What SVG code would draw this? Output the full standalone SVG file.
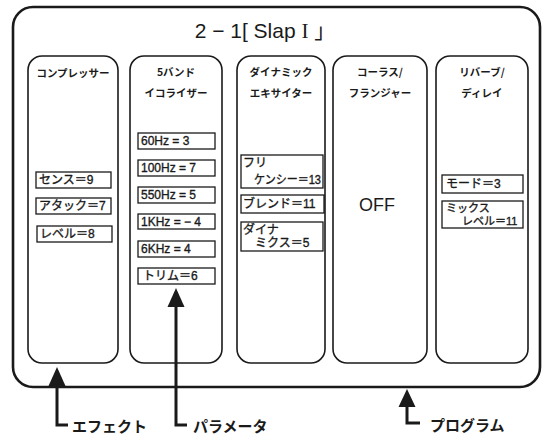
<svg xmlns="http://www.w3.org/2000/svg" width="547" height="436" viewBox="0 0 547 436">
<defs>
<style>
.frame{fill:none;stroke:#1a1a1a;stroke-width:2.6}
.col{fill:#fff;stroke:#1a1a1a;stroke-width:1.6}
.box{fill:#fff;stroke:#1a1a1a;stroke-width:1.3}
.hd{font-family:"Noto Sans CJK JP",sans-serif;font-size:10.5px;font-weight:700;fill:#1a1a1a;text-anchor:middle}
.bt{font-family:"Liberation Sans","Noto Sans CJK JP",sans-serif;font-size:12px;fill:#1a1a1a;stroke:#1a1a1a;stroke-width:0.35}
.sm{font-size:11px}
.title{font-family:"Liberation Sans","Noto Sans CJK JP",sans-serif;font-size:21px;fill:#1a1a1a;text-anchor:middle}
.off{font-family:"Liberation Sans",sans-serif;font-size:18px;fill:#1a1a1a;text-anchor:middle}
.lbl{font-family:"Noto Sans CJK JP",sans-serif;font-size:15px;font-weight:700;fill:#1a1a1a}
.shaft{fill:none;stroke:#1a1a1a;stroke-width:3}
.head{fill:#1a1a1a}
</style>
</defs>
<rect width="547" height="436" fill="#fff"/>
<g id="program">
<rect class="frame" x="13" y="7" width="527" height="380" rx="20" ry="20"/>
<text class="title" x="265" y="38">2 − 1[ Slap  <tspan font-family="Liberation Serif">I</tspan> 」</text>
</g>
<g id="compressor">
<rect class="col" x="28" y="56" width="90" height="307" rx="14" ry="14"/>
<text class="hd" x="73" y="77">コンプレッサー</text>
<rect class="box" x="36" y="172" width="75" height="16"/>
<text class="bt" x="39" y="184">センス＝9</text>
<rect class="box" x="36" y="198" width="75" height="16"/>
<text class="bt" x="39" y="210">アタック＝7</text>
<rect class="box" x="37" y="226" width="75" height="16"/>
<text class="bt" x="40" y="238">レベル＝8</text>
</g>
<g id="eq">
<rect class="col" x="130" y="56" width="92" height="307" rx="14" ry="14"/>
<text class="hd" x="176" y="76">5バンド</text>
<text class="hd" x="176" y="97">イコライザー</text>
<rect class="box" x="138" y="133" width="77" height="16"/>
<text class="bt" x="141" y="145">60Hz = 3</text>
<rect class="box" x="138" y="160" width="77" height="16"/>
<text class="bt" x="141" y="172">100Hz = 7</text>
<rect class="box" x="138" y="187" width="77" height="16"/>
<text class="bt" x="141" y="199">550Hz = 5</text>
<rect class="box" x="138" y="214" width="77" height="15"/>
<text class="bt" x="141" y="226">1KHz = − 4</text>
<rect class="box" x="138" y="241" width="77" height="16"/>
<text class="bt" x="141" y="253">6KHz = 4</text>
<rect class="box" x="138" y="268" width="77" height="16"/>
<text class="bt" x="143" y="280">トリム＝6</text>
</g>
<g id="exciter">
<rect class="col" x="237" y="56" width="88" height="307" rx="14" ry="14"/>
<text class="hd" x="281" y="76">ダイナミック</text>
<text class="hd" x="281" y="97">エキサイター</text>
<rect class="box" x="241" y="155" width="82" height="33"/>
<text class="bt" x="243" y="167">フリ</text>
<text class="bt" x="254" y="184" textLength="67" lengthAdjust="spacingAndGlyphs">ケンシー＝13</text>
<rect class="box" x="241" y="195" width="83" height="18"/>
<text class="bt" x="243" y="208">ブレンド＝11</text>
<rect class="box" x="241" y="222" width="82" height="29"/>
<text class="bt" x="243" y="234">ダイナ</text>
<text class="bt" x="255" y="247">ミクス＝5</text>
</g>
<g id="chorus">
<rect class="col" x="333" y="56" width="94" height="307" rx="14" ry="14"/>
<text class="hd" x="380" y="76">コーラス/</text>
<text class="hd" x="380" y="97">フランジャー</text>
<text class="off" x="377" y="211">OFF</text>
</g>
<g id="reverb">
<rect class="col" x="436" y="56" width="92" height="307" rx="14" ry="14"/>
<text class="hd" x="482" y="76">リバーブ/</text>
<text class="hd" x="482" y="97">ディレイ</text>
<rect class="box" x="442" y="175" width="81" height="18"/>
<text class="bt" x="446" y="188">モード＝3</text>
<rect class="box" x="442" y="201" width="81" height="27"/>
<text class="bt sm" x="446" y="212">ミックス</text>
<text class="bt sm" x="462" y="225">レベル＝11</text>
</g>
<g id="connectors">
<polyline class="shaft" points="57,383 57,425 68,425"/>
<polygon class="head" points="57,367 48.5,386 65.5,386"/>
<polyline class="shaft" points="176,305 176,425 187,425"/>
<polygon class="head" points="176,288 167.5,307 184.5,307"/>
<polyline class="shaft" points="407,405 407,423 420,423"/>
<polygon class="head" points="407,389 398.5,407 415.5,407"/>
</g>
<g id="labels">
<text class="lbl" x="72" y="432">エフェクト</text>
<text class="lbl" x="193" y="432">パラメータ</text>
<text class="lbl" x="430" y="431">プログラム</text>
</g>
</svg>
